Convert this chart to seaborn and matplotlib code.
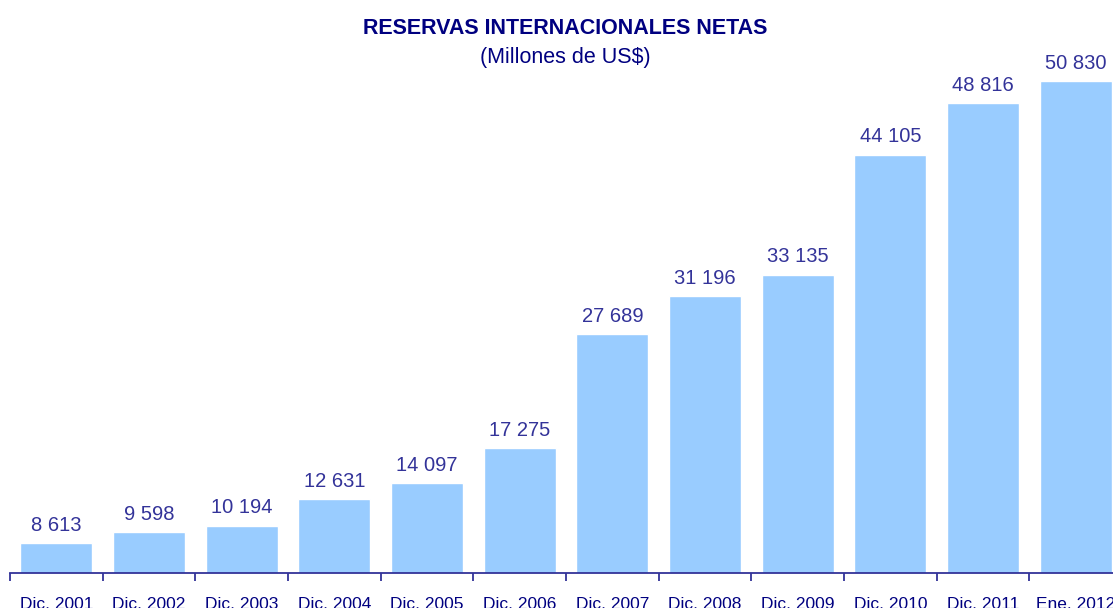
import matplotlib
matplotlib.use("Agg")
import matplotlib.pyplot as plt
import seaborn as sns
import pandas as pd
from matplotlib.ticker import FixedLocator

# data
periodos = ["Dic. 2001", "Dic. 2002", "Dic. 2003", "Dic. 2004", "Dic. 2005", "Dic. 2006",
            "Dic. 2007", "Dic. 2008", "Dic. 2009", "Dic. 2010", "Dic. 2011", "Ene. 2012"]
reservas = [8613, 9598, 10194, 12631, 14097, 17275, 27689, 31196, 33135, 44105, 48816, 50830]

df = pd.DataFrame({"periodo": periodos, "reservas": reservas})

sns.set_style("white")
plt.rcParams["font.family"] = ["Liberation Sans", "DejaVu Sans"]

bar_color = "#99CCFF"
label_color = "#333399"
title_color = "#000080"

fig = plt.figure(figsize=(11.13, 6.08), dpi=100)
# axes runs past the right edge, as in the original slide
ax = fig.add_axes([10 / 1113, 35 / 608, 1112 / 1113, 573 / 608])

sns.barplot(data=df, x="periodo", y="reservas", color=bar_color, width=0.78,
            saturation=1, ax=ax)

ax.set_ylim(5870, 58230)
ax.set_xlim(-0.5, len(periodos) - 0.5)

# value labels with space as thousands separator
etiquetas = [f"{v:,}".replace(",", " ") for v in reservas]
ax.bar_label(ax.containers[0], labels=etiquetas, padding=6, fontsize=14.5,
             color=label_color)

for s in ["top", "right", "left"]:
    ax.spines[s].set_visible(False)
ax.spines["bottom"].set_color(label_color)
ax.spines["bottom"].set_linewidth(1.3)

ax.set_yticks([])
ax.set_xlabel("")
ax.set_ylabel("")
ax.tick_params(axis="x", which="major", bottom=False, length=0, pad=17, labelsize=12.5,
               labelcolor=title_color)
ax.xaxis.set_minor_locator(FixedLocator([i - 0.5 for i in range(len(periodos) + 1)]))
ax.tick_params(axis="x", which="minor", bottom=True, length=6, width=1.3,
               color=label_color, direction="out")

fig.text(0.508, 0.953, "RESERVAS INTERNACIONALES NETAS", ha="center", va="center",
         fontsize=15.5, fontweight="bold", color=title_color)
fig.text(0.508, 0.906, "(Millones de US$)", ha="center", va="center",
         fontsize=15.5, color=title_color)

fig.savefig("out.png", dpi=100)
